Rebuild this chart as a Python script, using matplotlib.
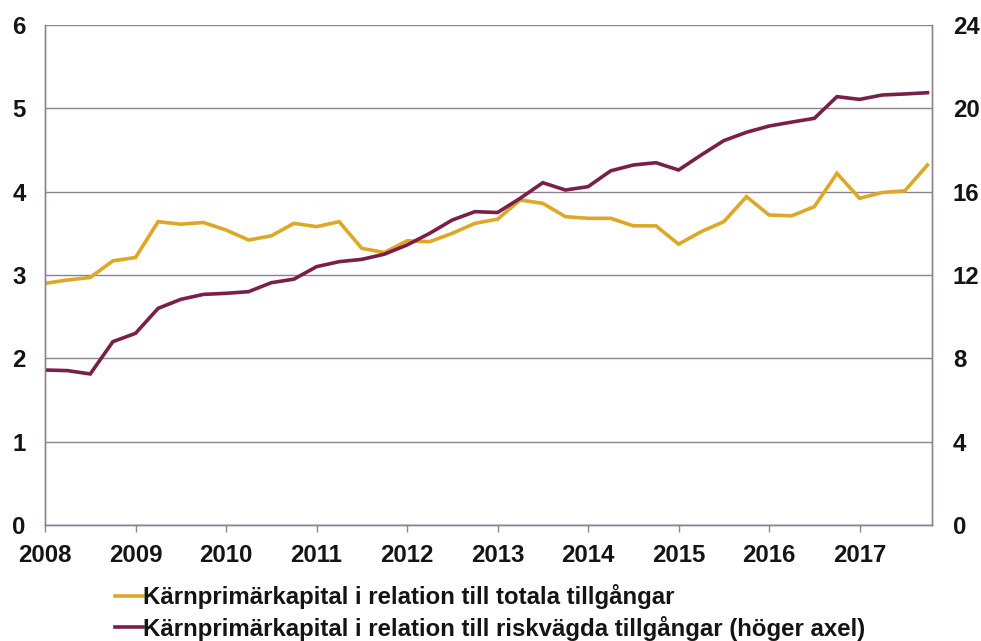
import numpy as np
import matplotlib
matplotlib.use("Agg")
import matplotlib.pyplot as plt

plt.rcParams['font.family'] = ['Liberation Sans', 'DejaVu Sans']
plt.rcParams['font.weight'] = 'bold'

# Quarterly data 2008 Q1 - 2017 Q4
years = list(range(2008, 2018))
quarters_per_year = 4

total_assets = [2.90, 2.94, 2.97, 3.17, 3.21, 3.64, 3.61, 3.63, 3.54, 3.42,
                3.47, 3.62, 3.58, 3.64, 3.32, 3.27, 3.41, 3.40, 3.50, 3.62,
                3.67, 3.90, 3.86, 3.70, 3.68, 3.68, 3.59, 3.59, 3.37, 3.52,
                3.64, 3.94, 3.72, 3.71, 3.82, 4.22, 3.92, 3.99, 4.01, 4.32]

risk_weighted = [7.44, 7.41, 7.25, 8.80, 9.20, 10.40, 10.83, 11.07, 11.12, 11.20,
                 11.63, 11.80, 12.40, 12.64, 12.75, 13.00, 13.44, 14.00, 14.64, 15.04,
                 15.00, 15.68, 16.43, 16.08, 16.24, 17.00, 17.28, 17.39, 17.04, 17.76,
                 18.45, 18.85, 19.15, 19.34, 19.52, 20.56, 20.43, 20.64, 20.69, 20.75]

labels = ["Kärnprimärkapital i relation till totala tillgångar",
          "Kärnprimärkapital i relation till riskvägda tillgångar (höger axel)"]

left_ticks = [0, 1, 2, 3, 4, 5, 6]
right_ticks = [0, 4, 8, 12, 16, 20, 24]

x = years[0] + np.arange(len(total_assets)) / quarters_per_year

yellow = '#DDA828'
purple = '#7A1F47'
gridc = '#8d8290'
fs = 17.3

fig = plt.figure(figsize=(9.81, 6.41), dpi=100)
ax = fig.add_axes([45/981, 1 - 525/641, (932-45)/981, 500/641])
ax2 = ax.twinx()

l1, = ax.plot(x, total_assets, color=yellow, lw=2.6, solid_joinstyle='miter')
l2, = ax2.plot(x, risk_weighted, color=purple, lw=2.6, solid_joinstyle='miter')

ax.set_xlim(2008, 2017.8)
ax.set_ylim(0, 6)
ax2.set_ylim(0, 24)
ax.set_yticks(left_ticks)
ax2.set_yticks(right_ticks)
ax.set_xticks(years)
ax.set_xticklabels([str(y) for y in years])

ax.grid(axis='y', color=gridc, lw=1.0)
ax.set_axisbelow(True)

for a in (ax, ax2):
    for s in a.spines.values():
        s.set_color(gridc)
        s.set_linewidth(1.0)
    a.spines['top'].set_visible(False)

ax.tick_params(axis='x', length=5, width=1, color=gridc, pad=9, labelsize=fs)
ax.tick_params(axis='y', length=0, pad=14, labelsize=fs)
ax2.tick_params(axis='y', length=0, pad=15, labelsize=fs)
for t in ax.get_yticklabels() + ax2.get_yticklabels() + ax.get_xticklabels():
    t.set_fontweight('bold')
    t.set_color('#141414')

leg = fig.legend([l1, l2], labels, loc='upper left',
                 bbox_to_anchor=(115/981, 1 - 584/641), frameon=False,
                 borderpad=0, borderaxespad=0, handlelength=1.17,
                 handletextpad=0.0, labelspacing=0.28,
                 prop={'size': fs, 'weight': 'bold'})
for t in leg.get_texts():
    t.set_color('#141414')

fig.savefig('out.png', dpi=100)
